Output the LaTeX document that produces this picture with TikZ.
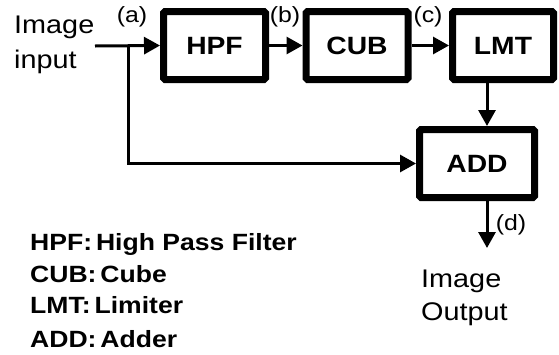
\documentclass[tikz,border=0pt]{standalone}
\usepackage{fontspec}
\setmainfont{Liberation Sans}[FakeStretch=1.13]
\usetikzlibrary{arrows.meta}
\tikzset{
  block/.style={draw, line width=7pt, rounded corners=1.5pt, minimum width=102pt,
    minimum height=68pt, inner sep=0pt, font=\fontsize{25}{25}\selectfont\bfseries},
  flow/.style={line width=3pt, -{Triangle[length=16pt,width=17pt]}},
  tag/.style={inner sep=0pt, font=\fontsize{22}{22}\selectfont},
  caption/.style={inner sep=0pt, anchor=base west, font=\fontsize{25.5}{25.5}\selectfont},
  legend/.style={inner sep=0pt, anchor=base west, font=\fontsize{23.5}{23.5}\selectfont\bfseries}
}
\begin{document}
\begin{tikzpicture}[x=1pt,y=-1pt]
\useasboundingbox (0,0) rectangle (559,354);
% processing blocks
\node[block] (hpf) at (214.5,45.5) {HPF};
\node[block] (cub) at (357,45.5) {CUB};
\node[block, minimum width=101pt] (lmt) at (503,45.5) {LMT};
\node[block, minimum width=115pt] (add) at (477,163.5) {ADD};
% helper points
\coordinate (in) at (95,46);
\coordinate (split) at (128,46);
\coordinate (col) at (487,0);
\coordinate (out) at (487,248);
% signal path
\draw[flow] (in) -- (hpf.west);
\draw[flow] (hpf.east) -- (cub.west);
\draw[flow] (cub.east) -- (lmt.west);
\draw[flow] (lmt.south -| col) -- (add.north -| col);
\draw[flow] (split) |- (add.west);
\draw[flow] (add.south -| col) -- (out);
% signal taps
\node[tag] (ta) at (132,17) {(a)};
\node[tag] (tb) at (285,17) {(b)};
\node[tag] (tc) at (428,17) {(c)};
\node[tag] (td) at (511,225) {(d)};
% input and output captions
\node[caption] (in1) at (14,33) {Image};
\node[caption] (in2) at (14,68) {input};
\node[caption] (out1) at (421,287) {Image};
\node[caption] (out2) at (421,320) {Output};
% abbreviations
\node[legend] (l1) at (30,250) {HPF:\,High Pass Filter};
\node[legend] (l2) at (30,282) {CUB:\,Cube};
\node[legend] (l3) at (30,313) {LMT:\,Limiter};
\node[legend] (l4) at (30,347) {ADD:\,Adder};
\end{tikzpicture}
\end{document}
